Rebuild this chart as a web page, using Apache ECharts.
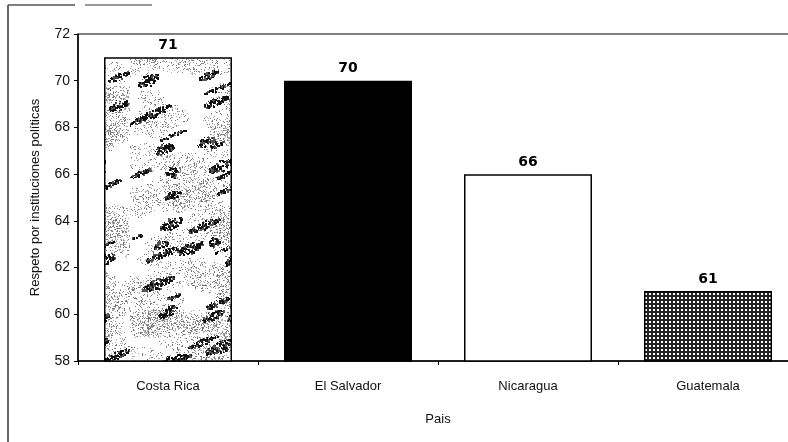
<!DOCTYPE html>
<html>
<head>
<meta charset="utf-8">
<script src="https://cdn.jsdelivr.net/npm/echarts@6/dist/echarts.min.js"></script>
<style>html,body{margin:0;padding:0;background:#fff;overflow:hidden}#c{width:800px;height:442px}</style>
</head>
<body>
<div id="c"></div>
<script>
const categories = ['Costa Rica', 'El Salvador', 'Nicaragua', 'Guatemala'];
const values = [71, 70, 66, 61];
const yTicks = [58, 60, 62, 64, 66, 68, 70, 72];
const yTitle = 'Respeto por instituciones políticas';
const xTitle = 'Pais';

// Marble-like texture (deterministic pseudo-noise, decoration only)
function marble() {
  const c = document.createElement('canvas');
  c.width = 130; c.height = 310;
  const g = c.getContext('2d');
  g.fillStyle = '#fff'; g.fillRect(0, 0, c.width, c.height);
  let s = 4242;
  const rnd = () => { s = (s * 1103515245 + 12345) & 0x7fffffff; return s / 0x7fffffff; };
  // gray dotted haze
  for (let i = 0; i < 70; i++) {
    const cx = rnd() * 130, cy = rnd() * 310, r = 6 + rnd() * 14;
    const n = Math.floor(r * r * 0.5);
    for (let k = 0; k < n; k++) {
      const a = rnd() * Math.PI * 2, d = Math.sqrt(rnd()) * r;
      g.fillStyle = rnd() < 0.5 ? '#777' : '#aaa';
      g.fillRect(Math.floor(cx + Math.cos(a) * d * 1.6), Math.floor(cy + Math.sin(a) * d * 0.8), 1, 1);
    }
  }
  // dark clouds along diagonal streaks
  for (let i = 0; i < 40; i++) {
    const cx = rnd() * 130, cy = rnd() * 310;
    const len = 5 + rnd() * 14, th = 2 + rnd() * 5;
    const n = Math.floor(len * th * 1.6);
    for (let k = 0; k < n; k++) {
      const t = (rnd() - 0.5) * 2 * len, u = (rnd() - 0.5) * 2 * th * (1 - Math.abs(t) / len * 0.7);
      const x = cx + t * Math.cos(-0.4) - u * Math.sin(-0.4);
      const y = cy + t * Math.sin(-0.4) + u * Math.cos(-0.4);
      g.fillStyle = rnd() < 0.7 ? '#111' : '#555';
      const sz = rnd() < 0.5 ? 2 : 1;
      g.fillRect(Math.floor(x), Math.floor(y), sz, sz);
    }
  }
  return c;
}
function hatch() {
  const c = document.createElement('canvas');
  c.width = 4; c.height = 4;
  const g = c.getContext('2d');
  g.fillStyle = '#222'; g.fillRect(0, 0, 4, 4);
  g.fillStyle = '#fff'; g.fillRect(1, 1, 2, 2);
  return c;
}
const fills = [
  { image: marble(), repeat: 'repeat' },
  '#000',
  '#fff',
  { image: hatch(), repeat: 'repeat' }
];

const chart = echarts.init(document.getElementById('c'));
const font = '"Liberation Sans", Arial, sans-serif';
chart.setOption({
  animation: false,
  backgroundColor: '#fff',
  grid: { left: 78, top: 34, right: 2, bottom: 81, show: true, borderColor: '#000', borderWidth: 1, backgroundColor: 'transparent' },
  xAxis: {
    type: 'category',
    data: categories,
    name: xTitle,
    nameLocation: 'middle',
    nameGap: 52,
    nameTextStyle: { color: '#111', fontSize: 13, fontFamily: font },
    axisLine: { lineStyle: { color: '#000', width: 1.5 } },
    axisTick: { show: true, length: 4, lineStyle: { color: '#000' } },
    axisLabel: { color: '#111', fontSize: 13, fontFamily: font, margin: 19 }
  },
  yAxis: {
    type: 'value',
    min: yTicks[0],
    max: yTicks[yTicks.length - 1],
    interval: 2,
    name: yTitle,
    nameLocation: 'middle',
    nameGap: 36,
    nameTextStyle: { color: '#111', fontSize: 13, fontFamily: font },
    axisLine: { show: true, lineStyle: { color: '#000', width: 1.5 } },
    axisTick: { show: true, length: 4, lineStyle: { color: '#000' } },
    axisLabel: { color: '#111', fontSize: 14, fontFamily: font, margin: 8 },
    splitLine: { show: false }
  },
  series: [{
    type: 'bar',
    barWidth: 128,
    data: values.map((v, i) => ({ value: v, itemStyle: { color: fills[i], borderColor: '#000', borderWidth: 1.5 } })),
    label: {
      show: true,
      position: 'top',
      distance: 5,
      color: '#000',
      fontSize: 14,
      fontWeight: 'bold',
      fontFamily: '"DejaVu Sans", Arial, sans-serif'
    }
  }],
  graphic: [
    { type: 'line', shape: { x1: 8, y1: 5, x2: 8, y2: 442 }, style: { stroke: '#333', lineWidth: 1.5 } },
    { type: 'line', shape: { x1: 8, y1: 5, x2: 75, y2: 5 }, style: { stroke: '#555', lineWidth: 1.5 } },
    { type: 'line', shape: { x1: 85, y1: 5, x2: 152, y2: 5 }, style: { stroke: '#777', lineWidth: 1.5 } }
  ]
});
</script>
</body>
</html>
